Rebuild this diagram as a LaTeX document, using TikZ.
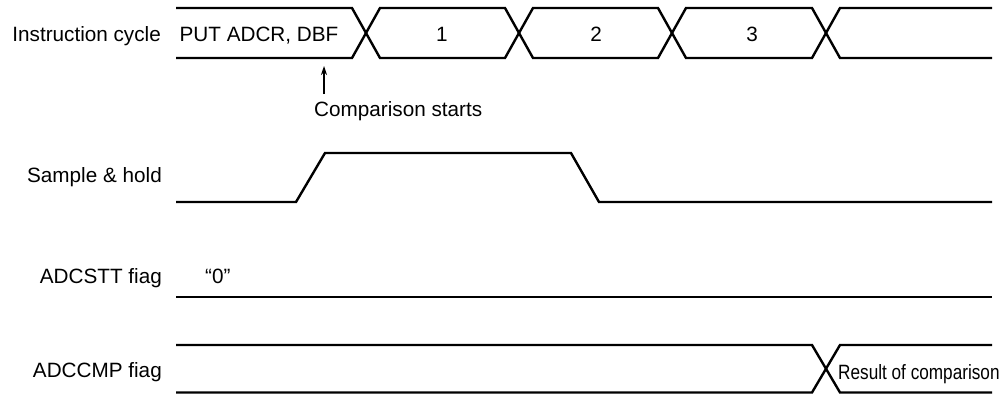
\documentclass[tikz,border=0pt]{standalone}
\usepackage{fontspec}
\usepackage{graphicx}
\setmainfont{Liberation Sans}
\usetikzlibrary{arrows.meta}
\begin{document}
\begin{tikzpicture}[x=1pt,y=-1pt,
  wave/.style={line width=2.4pt, line join=miter},
  lbl/.style={font=\fontsize{20.7}{24}\selectfont, inner sep=0pt},
  siglbl/.style={lbl, anchor=base east},
  txt/.style={lbl, anchor=base},
  ptr/.style={-{Stealth[length=9pt,width=6pt]}, line width=1.1pt},
]
\useasboundingbox (0,0) rectangle (1001,394);
% signal names
\node[siglbl] (n1) at (161,41) {Instruction cycle};
\node[siglbl] (n2) at (162,182) {Sample \& hold};
\node[siglbl] (n3) at (162,283) {ADCSTT fiag};
\node[siglbl] (n4) at (162,377) {ADCCMP fiag};
% instruction cycle bus
\draw[wave] (176,8) -- (352,8) -- (380,58) -- (505,58) -- (533,8) -- (658,8) -- (686,58) -- (812,58) -- (840,8) -- (992,8);
\draw[wave] (176,58) -- (352,58) -- (380,8) -- (505,8) -- (533,58) -- (658,58) -- (686,8) -- (812,8) -- (840,58) -- (992,58);
\node[txt] (put) at (259,41) {PUT ADCR, DBF};
\node[txt] (c1) at (442,41) {1};
\node[txt] (c2) at (596,41) {2};
\node[txt] (c3) at (752,41) {3};
% comparison starts
\node[lbl, anchor=base west] (cs) at (314,116) {Comparison starts};
\coordinate (at) at (324,94);
\coordinate (ah) at (324,66);
\draw[ptr] (at) -- (ah);
% sample & hold
\draw[wave] (176,202) -- (296,202) -- (325,153) -- (571,153) -- (599,202) -- (992,202);
% ADCSTT flag
\node[lbl, anchor=base west] (zero) at (205,283) {“0”};
\draw[wave] (176,297) -- (992,297);
% ADCCMP flag
\draw[wave] (176,345) -- (812,345) -- (840,392.5) -- (992,392.5);
\draw[wave] (176,392.5) -- (812,392.5) -- (840,345) -- (992,345);
\node[lbl, anchor=base west] (res) at (838,379) {\scalebox{0.83}[1]{Result of comparison}};
\end{tikzpicture}
\end{document}
